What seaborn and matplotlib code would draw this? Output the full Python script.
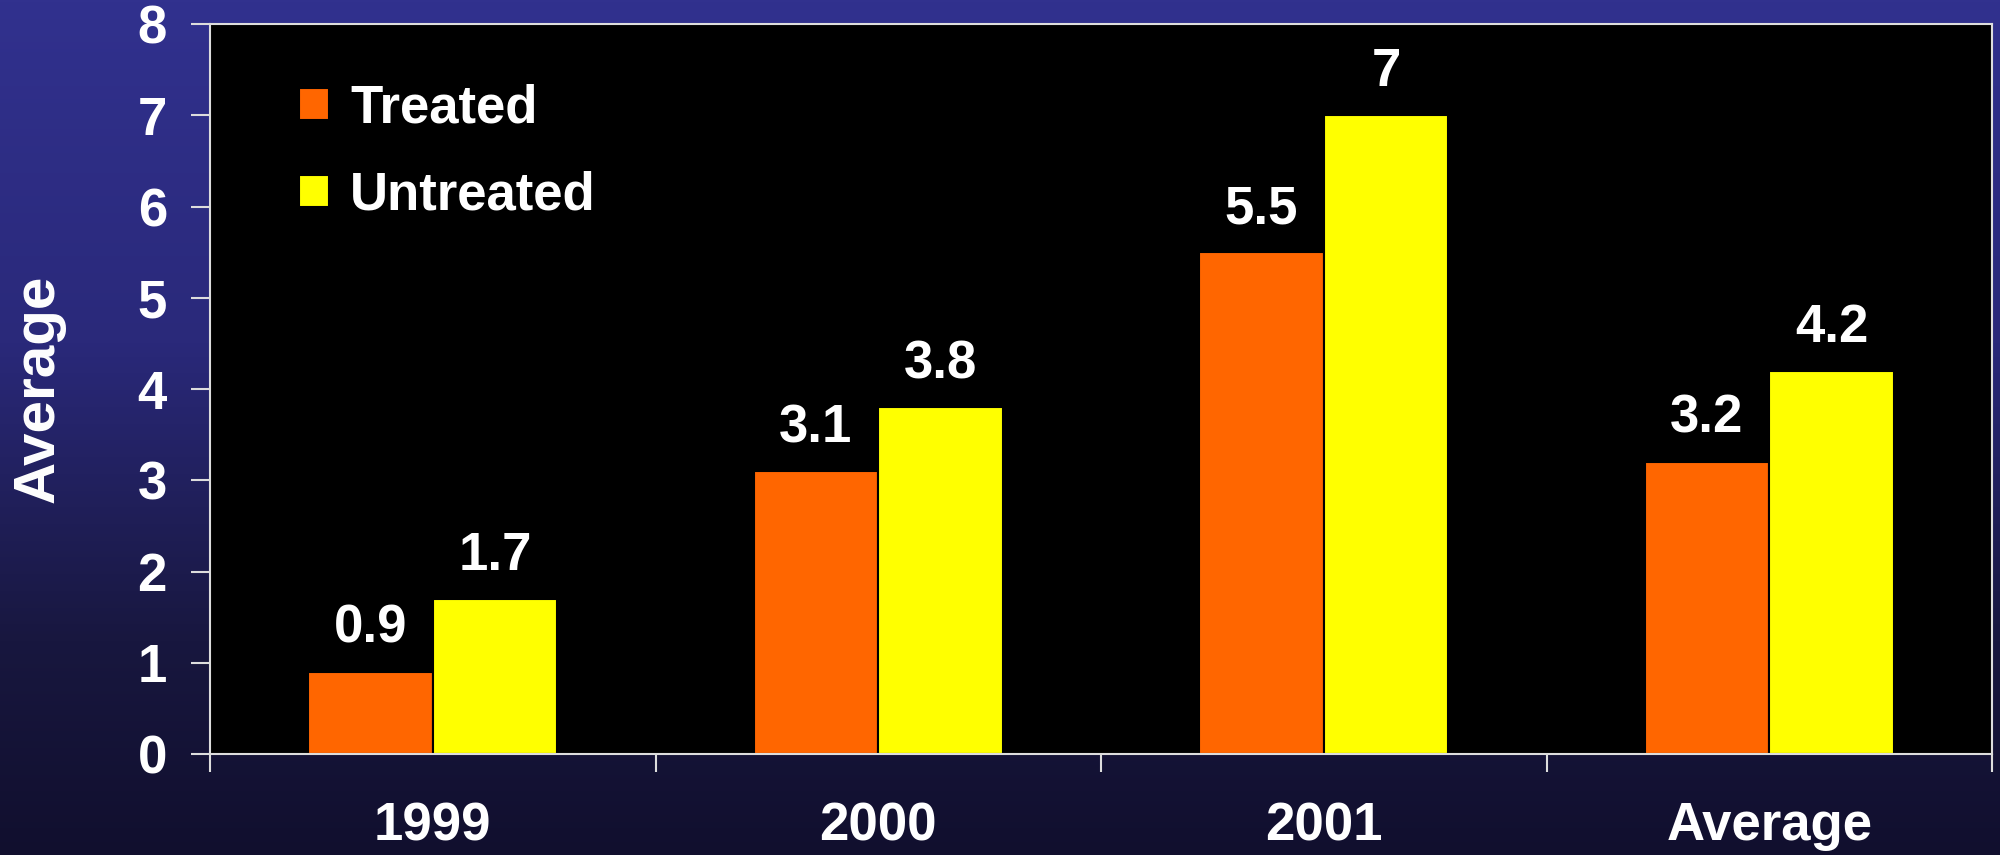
import numpy as np
import pandas as pd
import matplotlib
matplotlib.use("Agg")
import matplotlib.pyplot as plt
from matplotlib.colors import LinearSegmentedColormap
import seaborn as sns

# data
periods = ['1999', '2000', '2001', 'Average']
treated = [0.9, 3.1, 5.5, 3.2]
untreated = [1.7, 3.8, 7.0, 4.2]
groups = ['Treated', 'Untreated']
colors = ['#FF6600', '#FFFF00']

df = pd.DataFrame({
    'period': periods * 2,
    'value': treated + untreated,
    'group': [groups[0]] * len(periods) + [groups[1]] * len(periods),
})

sns.set_theme(style='white')
plt.rcParams['font.family'] = ['Liberation Sans', 'DejaVu Sans']
plt.rcParams['font.weight'] = 'bold'

fig = plt.figure(figsize=(20, 8.55), dpi=100)

# gradient background
bg = fig.add_axes([0, 0, 1, 1], zorder=-10)
cmap = LinearSegmentedColormap.from_list(
    'bg', [(0, '#31318e'), (0.4, '#2a297a'), (0.75, '#18173f'), (1, '#110f2e')])
bg.imshow(np.linspace(0, 1, 256).reshape(-1, 1), aspect='auto', cmap=cmap,
          extent=[0, 1, 0, 1])
bg.set_axis_off()

ax = fig.add_axes([0.105, 0.1181, 0.891, 0.8538])
ax.set_facecolor('black')
sns.barplot(data=df, x='period', y='value', hue='group', order=periods,
            hue_order=groups, palette=colors, width=0.56, saturation=1,
            edgecolor='black', linewidth=1.5, ax=ax)

for cont in ax.containers:
    ax.bar_label(cont, fmt='%g', padding=13, color='white', fontsize=38,
                 fontweight='bold')

ax.set_ylim(0, 8)
ax.set_xlim(-0.5, len(periods) - 0.5)
ax.set_yticks(range(0, 9))
ax.set_xticks(range(len(periods)))
ax.set_xticks(np.arange(-0.5, len(periods), 1.0), minor=True)
ax.tick_params(axis='x', which='major', length=0, pad=34, labelsize=38,
               labelcolor='white')
ax.tick_params(axis='x', which='minor', length=13, width=1.5, color='#dddddd',
               direction='out', bottom=True)
ax.tick_params(axis='y', length=14, width=1.5, color='#dddddd', pad=17,
               labelsize=38, labelcolor='white', direction='out', left=True)
for lab in ax.get_xticklabels() + ax.get_yticklabels():
    lab.set_fontweight('bold')

for sp in ax.spines.values():
    sp.set_color('#dddddd')
    sp.set_linewidth(1.5)

ax.set_xlabel('')
ax.set_ylabel('Average', fontsize=42, fontweight='bold', color='white',
              labelpad=52)

handles, labels = ax.get_legend_handles_labels()
leg = ax.legend(handles, labels, loc='upper left', bbox_to_anchor=(0.05, 0.918),
                frameon=False, fontsize=38, handlelength=0.57, handleheight=0.57,
                handletextpad=0.4, labelspacing=0.7, borderpad=0,
                borderaxespad=0)
for t in leg.get_texts():
    t.set_color('white')
    t.set_fontweight('bold')

fig.savefig('out.png', dpi=100)
